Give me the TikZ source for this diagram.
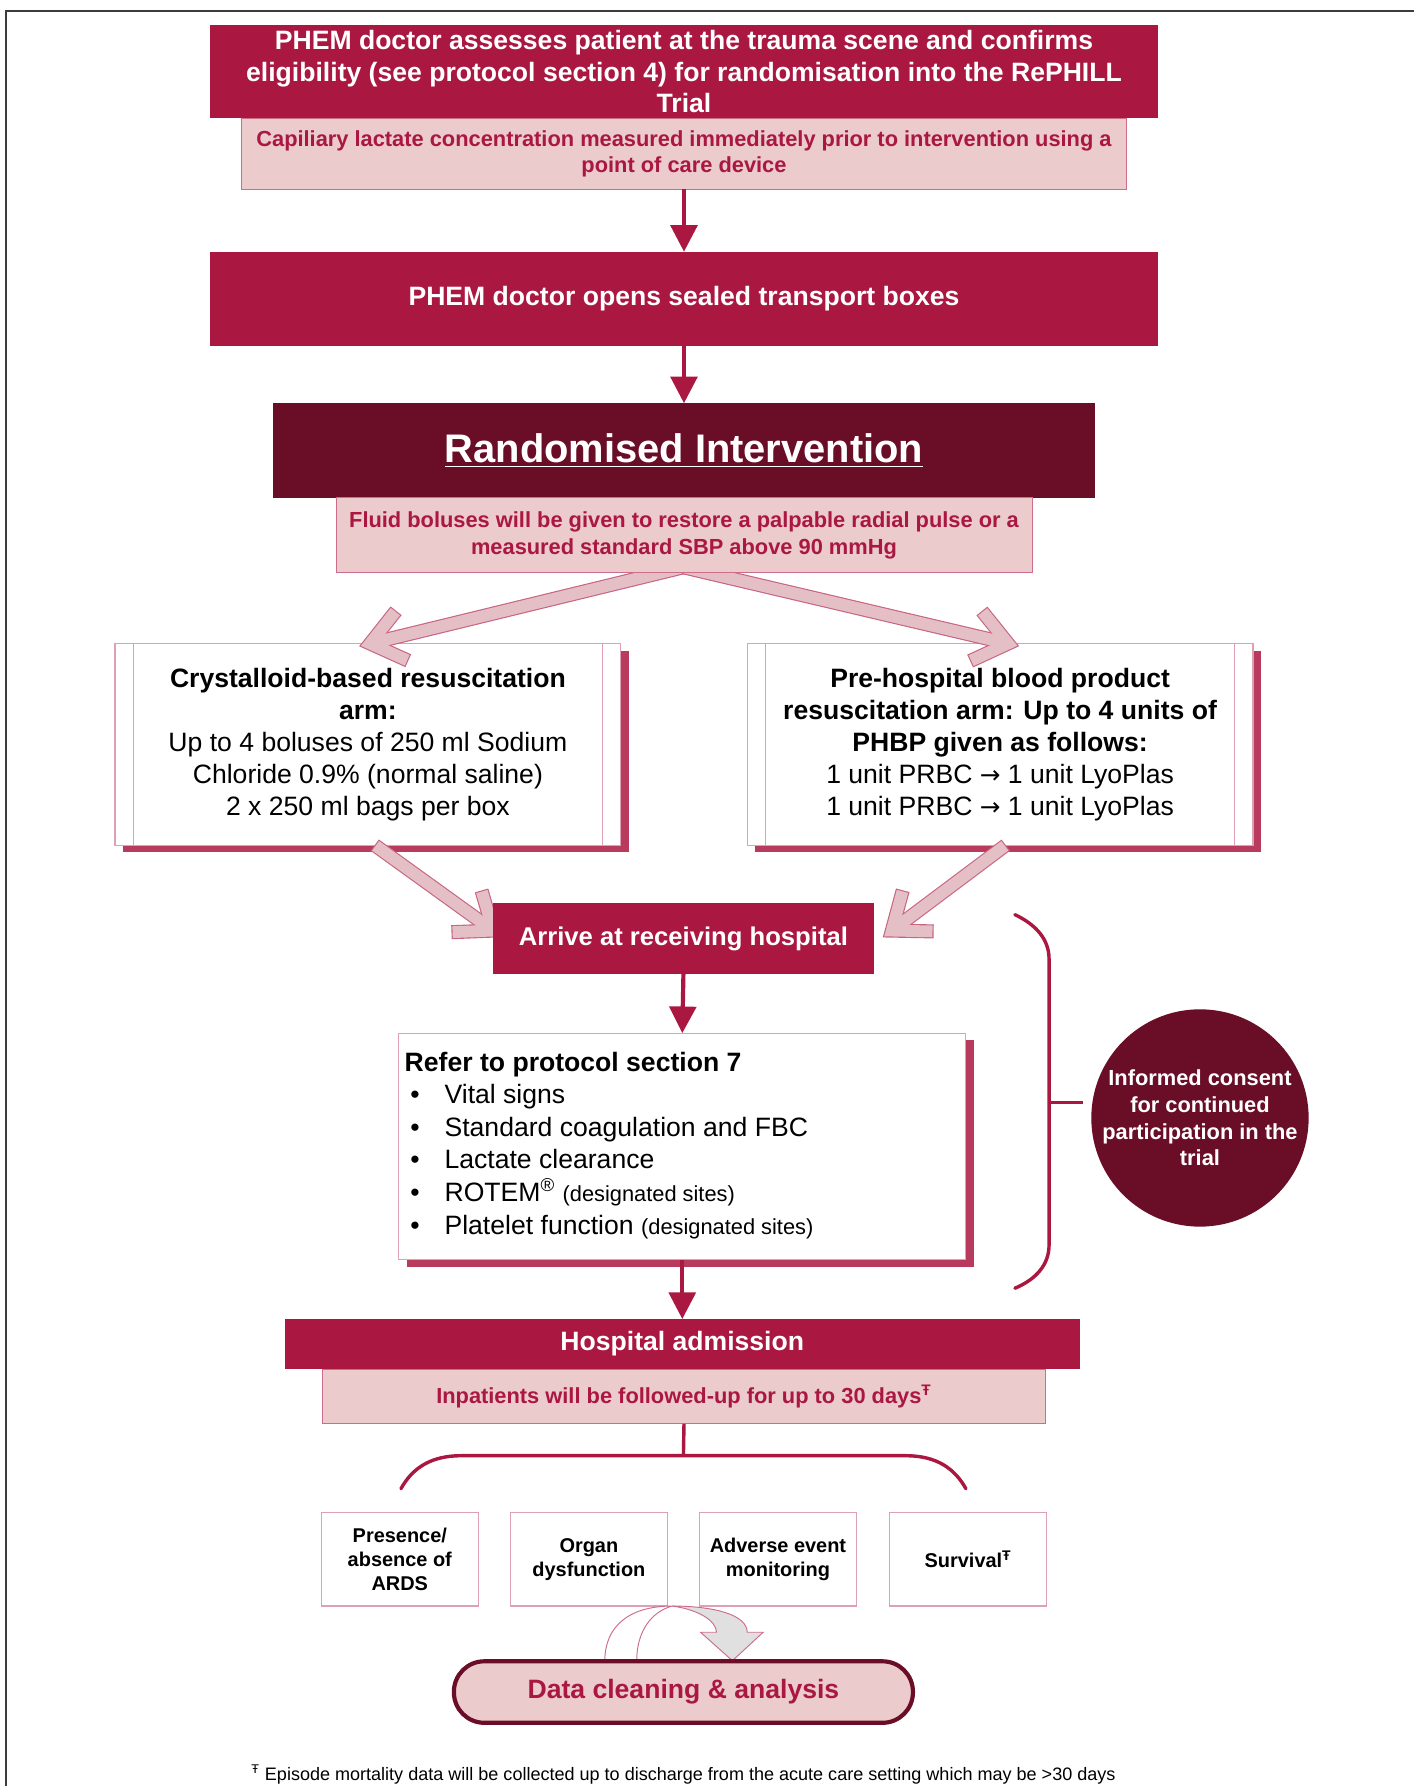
\documentclass[tikz,border=0pt]{standalone}
\usepackage{fontspec}
\setmainfont{Liberation Sans}
\newfontfamily\arrowfont{DejaVu Sans}
\usetikzlibrary{calc,arrows.meta,shadows}
\definecolor{crim}{RGB}{170,23,64}
\definecolor{maroon}{RGB}{106,14,40}
\definecolor{pinkfill}{RGB}{235,203,203}
\definecolor{pinkline}{RGB}{204,110,138}
\definecolor{lightline}{RGB}{222,160,180}
\definecolor{shadowc}{RGB}{184,58,92}
\definecolor{chevfill}{RGB}{228,192,198}
\definecolor{chevline}{RGB}{200,100,130}
\definecolor{framec}{RGB}{60,60,60}
\newcommand\chevarrow[2]{%
  \draw[line width=7.4pt, draw=chevline] (#1) -- (#2);
  \draw[line width=7.4pt, draw=chevline, line join=miter]
    ($(#2)!22pt!38:(#1)$) -- (#2) -- ($(#2)!22pt!-38:(#1)$);
  \draw[line width=6.2pt, draw=chevfill, shorten <=0.6pt] (#1) -- (#2);
  \draw[line width=6.2pt, draw=chevfill, line join=miter, shorten <=0.6pt, shorten >=0.6pt]
    ($(#2)!22pt!38:(#1)$) -- (#2) -- ($(#2)!22pt!-38:(#1)$);
}
\newcommand\rarr{{\arrowfont\fontsize{13}{16.8}\selectfont →}}
\begin{document}
\begin{tikzpicture}[x=0.6pt,y=-0.6pt,
  darkbox/.style={fill=crim, text=white, inner sep=0pt, outer sep=0pt, align=center,
    font=\bfseries\fontsize{14}{16.5}\selectfont},
  pinkbox/.style={fill=pinkfill, draw=pinkline, line width=0.5pt, text=crim, inner sep=0pt,
    outer sep=0pt, align=center, font=\bfseries\fontsize{11.5}{13.8}\selectfont},
  armbox/.style={fill=white, draw=lightline, line width=0.6pt, inner sep=0pt, outer sep=0pt,
    align=center, font=\fontsize{14}{16.8}\selectfont,
    drop shadow={opacity=1, fill=shadowc, shadow xshift=4.2pt, shadow yshift=-3.8pt}},
  smallbox/.style={fill=white, draw=lightline, line width=0.6pt, inner sep=0pt, outer sep=0pt,
    align=center, font=\bfseries\fontsize{10.5}{12.6}\selectfont,
    minimum width=138*0.6pt, minimum height=82*0.6pt},
  flow/.style={draw=crim, line width=2.2pt, -{Triangle[width=14pt,length=14pt]}},
  bracket/.style={draw=crim, line width=1.8pt, line cap=round}
]
\useasboundingbox (0,0) rectangle (1241,1568);
% page frame
\draw[framec, line width=1pt] (5,1568) -- (5,10) -- (1241,10);

% top
\node[darkbox, minimum width=833*0.6pt, minimum height=82*0.6pt] (assess) at (600.5,63)
  {PHEM doctor assesses patient at the trauma scene and confirms\\eligibility (see protocol section 4) for randomisation into the RePHILL\\Trial};
\node[pinkbox, minimum width=777*0.6pt, minimum height=62*0.6pt] (lactate) at (600.5,135)
  {Capiliary lactate concentration measured immediately prior to intervention using a\\point of care device};
\node[darkbox, minimum width=833*0.6pt, minimum height=83*0.6pt] (opens) at (600.5,262.5)
  {PHEM doctor opens sealed transport boxes};
\node[darkbox, fill=maroon, minimum width=721*0.6pt, minimum height=83*0.6pt,
  font=\bfseries\fontsize{21}{24}\selectfont] (rand) at (600.5,395.5)
  {\underline{Randomised Intervention}};
\draw[flow] (lactate.south) -- (opens.north);
\draw[flow] (opens.south) -- (rand.north);

% arms
\node[armbox, minimum width=444*0.6pt, minimum height=177*0.6pt] (crys) at (323,653.5)
  {\textbf{Crystalloid-based resuscitation}\\\textbf{arm:}\\Up to 4 boluses of 250 ml Sodium\\Chloride 0.9\% (normal saline)\\2 x 250 ml bags per box};
\draw[lightline, line width=0.6pt] ($(crys.north west)+(16,0)$) -- ($(crys.south west)+(16,0)$);
\draw[lightline, line width=0.6pt] ($(crys.north east)+(-16,0)$) -- ($(crys.south east)+(-16,0)$);
\node[armbox, minimum width=444*0.6pt, minimum height=177*0.6pt] (blood) at (878,653.5)
  {\textbf{Pre-hospital blood product}\\\textbf{resuscitation arm: Up to 4 units of}\\\textbf{PHBP given as follows:}\\1 unit PRBC \rarr{} 1 unit LyoPlas\\1 unit PRBC \rarr{} 1 unit LyoPlas};
\draw[lightline, line width=0.6pt] ($(blood.north west)+(16,0)$) -- ($(blood.south west)+(16,0)$);
\draw[lightline, line width=0.6pt] ($(blood.north east)+(-16,0)$) -- ($(blood.south east)+(-16,0)$);

% diverging block arrows
\coordinate (divsrc) at (600,498);
\coordinate (tipL) at (325,565);
\coordinate (tipR) at (885,565);
\chevarrow{divsrc}{tipL}
\chevarrow{divsrc}{tipR}
\node[pinkbox, minimum width=611*0.6pt, minimum height=66*0.6pt] (fluid) at (600.5,470)
  {Fluid boluses will be given to restore a palpable radial pulse or a\\measured standard SBP above 90 mmHg};

% converging block arrows
\coordinate (srcL) at (329,742);
\coordinate (srcR) at (883,742);
\coordinate (tipAL) at (433,817);
\coordinate (tipAR) at (783,817);
\chevarrow{srcL}{tipAL}
\chevarrow{srcR}{tipAR}
\node[darkbox, minimum width=334*0.6pt, minimum height=62*0.6pt,
  font=\bfseries\fontsize{13.5}{16}\selectfont] (arrive) at (600,824)
  {Arrive at receiving hospital};

% refer box
\node[armbox, minimum width=498*0.6pt, minimum height=199*0.6pt] (refer) at (599,1006.5) {};
\node[anchor=west, align=left, inner sep=0pt, font=\fontsize{14}{17.2}\selectfont] (refertext) at (355,1005.5)
  {\textbf{Refer to protocol section 7}\\
   \hspace*{3pt}\makebox[18pt][l]{•}Vital signs\\
   \hspace*{3pt}\makebox[18pt][l]{•}Standard coagulation and FBC\\
   \hspace*{3pt}\makebox[18pt][l]{•}Lactate clearance\\
   \hspace*{3pt}\makebox[18pt][l]{•}ROTEM\textsuperscript{®} {\fontsize{11.5}{17.2}\selectfont(designated sites)}\\
   \hspace*{3pt}\makebox[18pt][l]{•}Platelet function {\fontsize{11.5}{17.2}\selectfont(designated sites)}};
\draw[flow] (arrive.south) -- (refer.north);

% consent brace and circle
\node[circle, fill=maroon, minimum size=189*0.6pt, inner sep=0pt, text=white, align=center,
  font=\bfseries\fontsize{11.5}{14}\selectfont] (consent) at (1053.5,981.5)
  {Informed consent\\for continued\\participation in the\\trial};
\draw[bracket] (891,803) .. controls (910,812) and (921,825) .. (921,842) -- (921,1093)
  .. controls (921,1110) and (910,1123) .. (891,1131);
\coordinate (tick) at (951,968);
\draw[bracket, line cap=butt] (921,968) -- (tick);

% hospital admission
\node[darkbox, minimum width=698*0.6pt, minimum height=44*0.6pt] (admit) at (599,1180)
  {Hospital admission};
\node[pinkbox, minimum width=635*0.6pt, minimum height=48*0.6pt] (follow) at (600.5,1226)
  {Inpatients will be followed-up for up to 30 days\textsuperscript{Ŧ}};
\draw[flow] (refer.south) -- (admit.north);

% bottom bracket
\coordinate (brtop) at (600,1278);
\draw[bracket, line cap=butt] (follow.south) -- (brtop);
\draw[bracket] (352,1307) .. controls (362,1289) and (378,1278) .. (405,1278) -- (795,1278)
  .. controls (822,1278) and (838,1289) .. (848,1307);

% outcome boxes
\node[smallbox] (ards) at (351,1369) {Presence/\\absence of\\ARDS};
\node[smallbox] (organ) at (517,1369) {Organ\\dysfunction};
\node[smallbox] (adverse) at (683,1369) {Adverse event\\monitoring};
\node[smallbox] (survival) at (850,1369) {Survival\textsuperscript{Ŧ}};

% curved arrow
\filldraw[fill=white, draw=pinkline, line width=0.5pt] (531,1458)
  .. controls (531,1428) and (552,1410) .. (590,1410)
  .. controls (572,1415) and (559,1432) .. (559,1458) -- cycle;
\filldraw[fill=black!12, draw=pinkline, line width=0.5pt] (590,1410)
  .. controls (628,1410) and (656,1418) .. (656,1433) -- (670,1433) -- (643,1458)
  -- (615,1433) -- (629,1433) .. controls (629,1423) and (613,1413) .. (590,1410) -- cycle;

% data cleaning
\node[draw=maroon, line width=2.2pt, fill=pinkfill, rounded corners=16pt,
  minimum width=403*0.6pt, minimum height=54*0.6pt, inner sep=0pt, text=crim,
  font=\bfseries\fontsize{14}{16}\selectfont] (data) at (600,1485.5) {Data cleaning \& analysis};

% footnote
\node[inner sep=0pt, font=\fontsize{9.5}{11}\selectfont] (foot) at (600,1558)
  {\textsuperscript{Ŧ} Episode mortality data will be collected up to discharge from the acute care setting which may be >30 days};
\end{tikzpicture}
\end{document}
